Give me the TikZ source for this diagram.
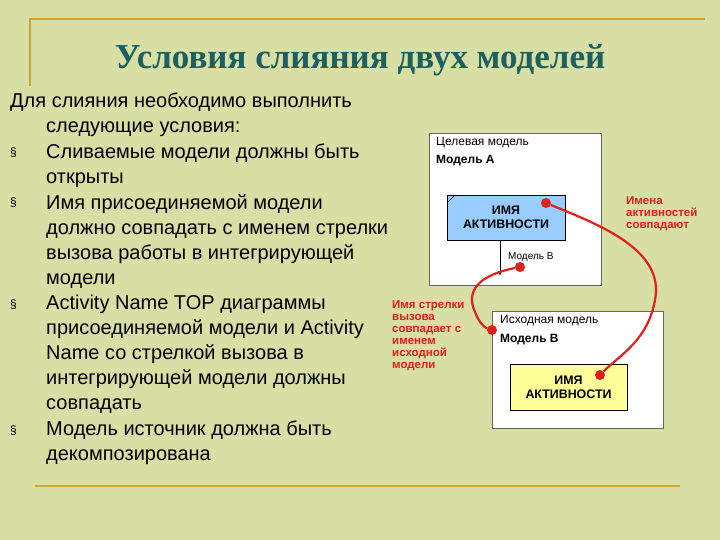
\documentclass[tikz,border=0pt]{standalone}
\usepackage{fontspec}
\setmainfont{Liberation Sans}
\newfontfamily\titlefont{Liberation Serif}
\definecolor{bg}{HTML}{D8DFA4}
\definecolor{gold}{HTML}{C8A832}
\definecolor{ttl}{HTML}{1E5F5F}
\definecolor{rd}{HTML}{E0201C}
\definecolor{blu}{HTML}{99CCFF}
\definecolor{yel}{HTML}{FFFF99}
\tikzset{
  body/.style={anchor=north west,inner sep=0,font=\fontsize{20}{25}\selectfont,align=left},
  bul/.style={anchor=north west,inner sep=0,font=\fontsize{12}{25}\selectfont},
  frame/.style={draw=black!60,fill=white,line width=0.5pt},
  small/.style={anchor=north west,inner sep=0,font=\fontsize{12}{13}\selectfont},
  act/.style={draw=black,line width=0.8pt,font=\bfseries\fontsize{12.4}{14}\selectfont,align=center},
  redtxt/.style={anchor=north west,inner sep=0,text=rd,font=\bfseries\fontsize{11.5}{12}\selectfont,align=left},
  dot/.style={circle,fill=rd,inner sep=0,minimum size=10pt},
  link/.style={draw=rd,line width=2.2pt}
}
\begin{document}
\begin{tikzpicture}[x=1pt,y=-1pt]
\fill[bg] (0,0) rectangle (720,540);
\useasboundingbox (0,0) rectangle (720,540);
\draw[gold,line width=1.5pt] (30,86) -- (30,19) -- (705,19);
\draw[gold,line width=1.2pt] (35,486) -- (680,486);
\node[text=ttl,font=\titlefont\bfseries\fontsize{35}{36}\selectfont] (title) at (360,60) {Условия слияния двух моделей};
\node[body] (t0) at (10,93) {Для слияния необходимо выполнить\\\hspace*{36pt}следующие условия:};
\foreach \y/\n in {145/b1,195/b2,297/b3,423/b4} \node[bul] (\n) at (10,\y+3) {§};
\node[body] (t1) at (46,144) {Сливаемые модели должны быть\\открыты};
\node[body] (t2) at (46,194) {Имя присоединяемой модели\\должно совпадать с именем стрелки\\вызова работы в интегрирующей\\модели};
\node[body] (t3) at (46,295) {Activity Name TOP диаграммы\\присоединяемой модели и Activity\\Name со стрелкой вызова в\\интегрирующей модели должны\\совпадать};
\node[body] (t4) at (46,421) {Модель источник должна быть\\декомпозирована};
% model A
\draw[frame] (429,133) rectangle (601,285);
\node[small] (la1) at (436,137) {Целевая модель};
\node[small,font=\bfseries\fontsize{12}{13}\selectfont] (la2) at (436,155) {Модель А};
\node[act,fill=blu,minimum width=118pt,minimum height=45pt] (actA) at (506,217.5) {ИМЯ\\АКТИВНОСТИ};
\draw[black,line width=0.5pt] (447,203) -- (455,195);
\coordinate (arrEnd) at (500,276);
\draw[-latex,line width=0.6pt] (500,240) -- (arrEnd);
\node[small,font=\fontsize{10}{11}\selectfont] (lmb) at (508,252) {Модель B};
% model B
\draw[frame] (492,311) rectangle (663,428);
\node[small] (lb1) at (500,315) {Исходная модель};
\node[small,font=\bfseries\fontsize{12}{13}\selectfont] (lb2) at (500,334) {Модель В};
\node[act,fill=yel,minimum width=117pt,minimum height=46pt] (actB) at (568.5,387) {ИМЯ\\АКТИВНОСТИ};
% red links
\node[dot] (d1) at (546,203) {};
\node[dot] (d2) at (600,375) {};
\node[dot] (d3) at (520,267) {};
\node[dot] (d4) at (492,330) {};
\draw[link] (d1) .. controls (600,225) and (665,250) .. (655,300) .. controls (648,340) and (620,355) .. (d2);
\draw[link] (d3) .. controls (480,275) and (465,290) .. (475,312) .. controls (480,325) and (486,328) .. (d4);
\node[redtxt] (r1) at (626,196) {Имена\\активностей\\совпадают};
\node[redtxt] (r2) at (392,300) {Имя стрелки\\вызова\\совпадает с\\именем\\исходной\\модели};
\end{tikzpicture}
\end{document}
